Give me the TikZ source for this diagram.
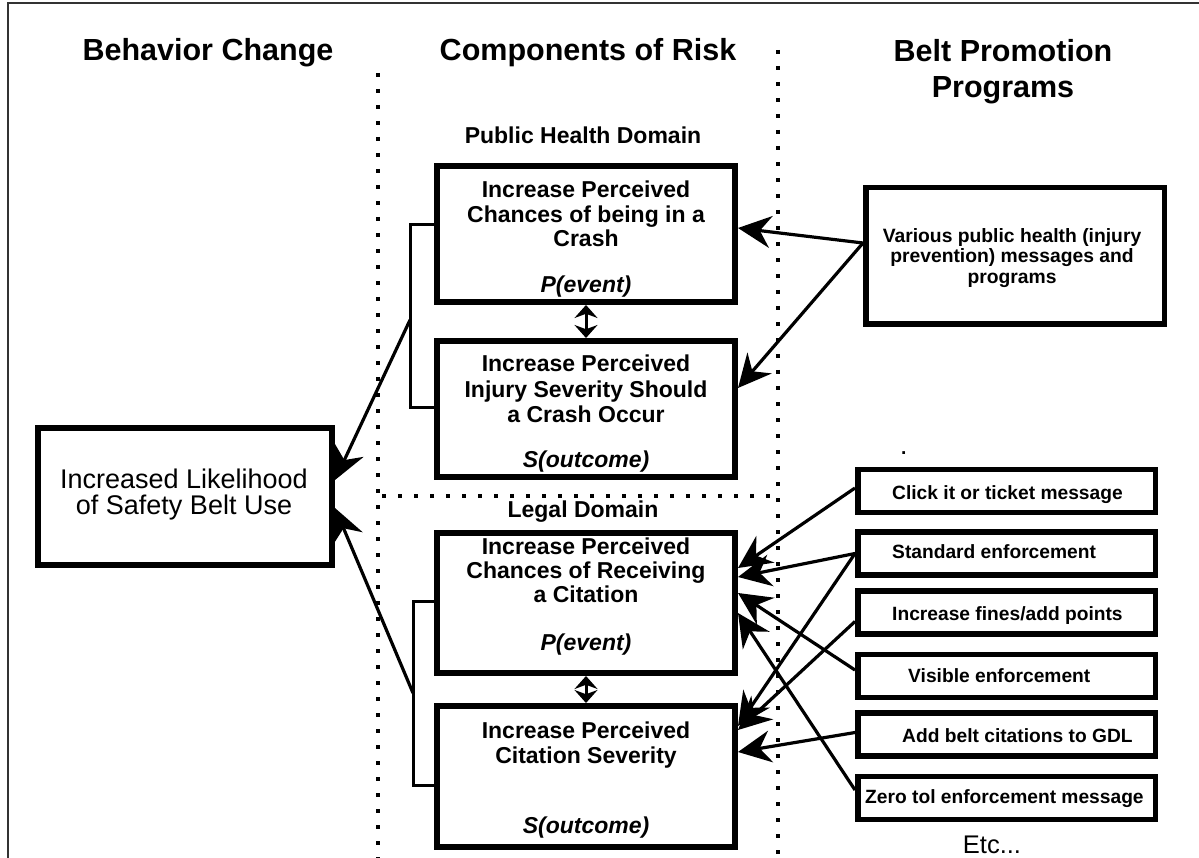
\documentclass[tikz,border=0pt]{standalone}
\usepackage{fontspec}
\setmainfont{Liberation Sans}
\usetikzlibrary{arrows.meta}
\newcommand\myfs[2]{\fontsize{#1pt}{#2pt}\selectfont}
\begin{document}
\begin{tikzpicture}[x=1pt,y=-1pt,
  bigbox/.style={draw, line width=6pt, inner sep=0pt, minimum width=298pt},
  smallbox/.style={draw, line width=5.5pt, inner sep=0pt, minimum width=297.5pt, minimum height=43pt},
  hd/.style={inner sep=0pt, font=\bfseries\myfs{30.5}{36}},
  bt/.style={inner sep=0pt, align=center, font=\bfseries\myfs{23}{24.5}},
  dom/.style={inner sep=0pt, font=\bfseries\myfs{23}{25}},
  st/.style={inner sep=0pt, anchor=base west, font=\bfseries\myfs{19.2}{21}},
  arr/.style={line width=3.2pt, -{Stealth[length=33pt,width=32pt,inset=11pt]}},
  dbl/.style={line width=3pt, {Stealth[length=13pt,width=23pt]}-{Stealth[length=13pt,width=23pt]}},
  dotline/.style={line width=4pt, dash pattern=on 4pt off 12pt},
  brk/.style={line width=3pt}
]
\useasboundingbox (0,0) rectangle (1199,858);
% frame
\draw[line width=2pt, black!80] (8,858) -- (8,3) -- (1199,3);
% dotted separators
\draw[dotline] (378,73) -- (378,858);
\draw[dotline] (778,50) -- (778,858);
\draw[dotline] (382,496) -- (778,496);
% headings
\node[hd, anchor=base] (h1) at (208,61) {Behavior Change};
\node[hd, anchor=base] (h2) at (588,61) {Components of Risk};
\node[hd, anchor=north, align=center] (h3) at (1003,39) {Belt Promotion\\Programs};
% domain labels
\node[dom, anchor=base] (phd) at (583,144) {Public Health Domain};
\node[dom, anchor=base] (lgd) at (583,517) {Legal Domain};
% main boxes
\node[bigbox, minimum height=136pt] (b1) at (586,234) {};
\node[bigbox, minimum height=136pt] (b2) at (586,409) {};
\node[bigbox, minimum height=140pt] (b3) at (586,603) {};
\node[bigbox, minimum height=141pt] (b4) at (586,776.5) {};
\node[bt, anchor=north] (b1t) at (586,181) {Increase Perceived\\Chances of being in a\\Crash};
\node[bt, anchor=base] (b1p) at (586,293) {\itshape P(event)};
\node[bt, anchor=north, font=\bfseries\myfs{23}{25.5}] (b2t) at (586,355) {Increase Perceived\\Injury Severity Should\\a Crash Occur};
\node[bt, anchor=base] (b2p) at (586,467) {\itshape S(outcome)};
\node[bt, anchor=north, font=\bfseries\myfs{23}{24}] (b3t) at (586,538) {Increase Perceived\\Chances of Receiving\\a Citation};
\node[bt, anchor=base] (b3p) at (586,650) {\itshape P(event)};
\node[bt, anchor=north, font=\bfseries\myfs{23}{25}] (b4t) at (586,722) {Increase Perceived\\Citation Severity};
\node[bt, anchor=base] (b4p) at (586,833) {\itshape S(outcome)};
% likelihood box
\node[draw, line width=6pt, inner sep=0pt, minimum width=294pt, minimum height=137pt] (lik) at (185,496.5) {};
\node[inner sep=0pt, anchor=north, align=center, font=\myfs{27}{26}] (likt) at (184,469) {Increased Likelihood\\of Safety Belt Use};
% various box
\node[draw, line width=5.5pt, inner sep=0pt, minimum width=298.5pt, minimum height=136.5pt] (vb) at (1015,256) {};
\node[inner sep=0pt, anchor=north, align=center, font=\bfseries\myfs{19.3}{20.5}] (vbt) at (1012,228) {Various public health (injury\\prevention) messages and\\programs};
% small right boxes
\node[smallbox] (r1) at (1006.5,491) {};
\node[smallbox] (r2) at (1006.5,553.5) {};
\node[smallbox] (r3) at (1006.5,612.5) {};
\node[smallbox] (r4) at (1006.5,676) {};
\node[smallbox] (r5) at (1006.5,734.5) {};
\node[smallbox] (r6) at (1006.5,798) {};
\node[st] (r1t) at (892,499) {Click it or ticket message};
\node[st] (r2t) at (892,558) {Standard enforcement};
\node[st] (r3t) at (892,620) {Increase fines/add points};
\node[st] (r4t) at (908,682) {Visible enforcement};
\node[st] (r5t) at (902,742) {Add belt citations to GDL};
\node[st] (r6t) at (865,803) {Zero tol enforcement message};
\node[st] (dot) at (901,454) {.};
\node[inner sep=0pt, anchor=base, font=\myfs{25.5}{28}] (etc) at (992,853) {Etc...};
% double arrows
\draw[dbl] (b1.south) -- (b2.north);
\draw[dbl] (b3.south) -- (b4.north);
% brackets
\coordinate (p1) at (410,225);
\coordinate (p2) at (410,407);
\coordinate (p3) at (413,601);
\coordinate (p4) at (413,785);
\coordinate (pa) at (410,320);
\coordinate (la) at (413,693);
\draw[brk] (b1.west |- p1) -- (p1) -- (p2) -- (b2.west |- p2);
\draw[brk] (b3.west |- p3) -- (p3) -- (p4) -- (b4.west |- p4);
\draw[arr] (pa) -- ([yshift=16.5pt]lik.east);
\draw[arr] (la) -- ([yshift=-11.5pt]lik.east);
% various arrows
\draw[arr] ([yshift=13pt]vb.west) -- ([yshift=6pt]b1.east);
\draw[arr] ([yshift=13pt]vb.west) -- ([yshift=21pt]b2.east);
% legal program arrows
\draw[arr] ([yshift=3pt]r1.west) -- ([yshift=35pt]b3.east);
\draw[arr] (r2.west) -- ([yshift=26pt]b3.east);
\draw[arr] ([yshift=6pt]r4.west) -- ([yshift=10pt]b3.east);
\draw[arr] ([yshift=8pt]r6.west) -- ([yshift=-10pt]b3.east);
\draw[arr] (r2.west) -- ([yshift=50.5pt]b4.east);
\draw[arr] ([yshift=-9pt]r3.west) -- ([yshift=46.5pt]b4.east);
\draw[arr] ([yshift=2pt]r5.west) -- ([yshift=24.5pt]b4.east);
\end{tikzpicture}
\end{document}
